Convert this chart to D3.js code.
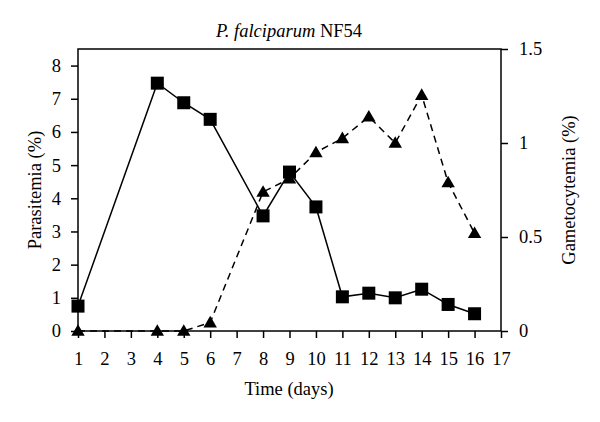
<!DOCTYPE html>
<html><head><meta charset="utf-8">
<script src="https://cdn.jsdelivr.net/npm/d3@7"></script>
<style>body{margin:0;background:#fff}text{font-family:"Liberation Serif","DejaVu Serif",serif;fill:#000}</style>
</head><body><svg id="c" width="600" height="422"></svg>
<script>
const days = [1,4,5,6,8,9,10,11,12,13,14,15,16];
const parasitemia = [0.75,7.47,6.88,6.38,3.47,4.79,3.74,1.03,1.14,1.0,1.26,0.8,0.52];
const gametocytemia = [0,0,0,0.045,0.74,0.81,0.95,1.025,1.14,1.0,1.255,0.79,0.52];
const xTicks = d3.range(1,18);
const yLeftTicks = [0,1,2,3,4,5,6,7,8];
const yRightTicks = [0,0.5,1,1.5];
const yRightLabels = ["0","0.5","1","1.5"];

const svg = d3.select("#c");
const L=78,R=501,T=49,B=331;
const x = d3.scaleLinear().domain([1,17]).range([L,R]);
const yL = d3.scaleLinear().domain([0,8.5]).range([B,T]);
const yR = d3.scaleLinear().domain([0,1.5]).range([B,T]);

const fs = 18.5;
const gx = svg.append("g").attr("transform",`translate(0,${B})`)
  .call(d3.axisBottom(x).tickValues(xTicks).tickFormat(d3.format("d")).tickSize(7).tickPadding(14).tickSizeOuter(0));
const gl = svg.append("g").attr("transform",`translate(${L},0)`)
  .call(d3.axisLeft(yL).tickValues(yLeftTicks).tickSize(7).tickPadding(10).tickSizeOuter(0));
const gr = svg.append("g").attr("transform",`translate(${R},0)`)
  .call(d3.axisRight(yR).tickValues(yRightTicks).tickFormat((d,i)=>yRightLabels[i]).tickSize(7).tickPadding(11).tickSizeOuter(0));
[gx,gl,gr].forEach(g=>{
  g.select(".domain").remove();
  g.selectAll("line").attr("stroke","#000").attr("stroke-width",1.5);
  g.selectAll("text").style("font-family",'"Liberation Serif",serif').attr("font-size",fs).attr("fill","#000");
});
svg.append("rect").attr("x",L).attr("y",T).attr("width",R-L).attr("height",B-T)
  .attr("fill","none").attr("stroke","#000").attr("stroke-width",1.5);

const gData = days.map((d,i)=>[d,gametocytemia[i]]);
svg.append("path").datum(gData)
  .attr("d",d3.line().x(d=>x(d[0])).y(d=>yR(d[1])))
  .attr("fill","none").attr("stroke","#000").attr("stroke-width",1.5).attr("stroke-dasharray","7,5");
const pData = days.map((d,i)=>[d,parasitemia[i]]);
svg.append("path").datum(pData)
  .attr("d",d3.line().x(d=>x(d[0])).y(d=>yL(d[1])))
  .attr("fill","none").attr("stroke","#000").attr("stroke-width",1.5);

const tri = d3.symbol().type(d3.symbolTriangle).size(78);
svg.selectAll(".tri").data(gData).enter().append("path")
  .attr("transform",d=>`translate(${x(d[0])},${yR(d[1])+1})`).attr("d",tri).attr("fill","#000");
svg.selectAll(".sq").data(pData).enter().append("rect")
  .attr("x",d=>x(d[0])-6.5).attr("y",d=>yL(d[1])-6.5).attr("width",13).attr("height",13)
  .attr("fill","#000");

const t = svg.append("text").attr("x",289).attr("y",37).attr("text-anchor","middle").attr("font-size",fs);
t.append("tspan").attr("font-style","italic").text("P. falciparum");
t.append("tspan").text(" NF54");
svg.append("text").attr("x",289).attr("y",395).attr("text-anchor","middle").attr("font-size",fs).text("Time (days)");
svg.append("text").attr("transform","translate(41,190) rotate(-90)").attr("text-anchor","middle").attr("font-size",fs).text("Parasitemia (%)");
svg.append("text").attr("transform","translate(575,190) rotate(-90)").attr("text-anchor","middle").attr("font-size",fs).text("Gametocytemia (%)");
</script></body></html>
